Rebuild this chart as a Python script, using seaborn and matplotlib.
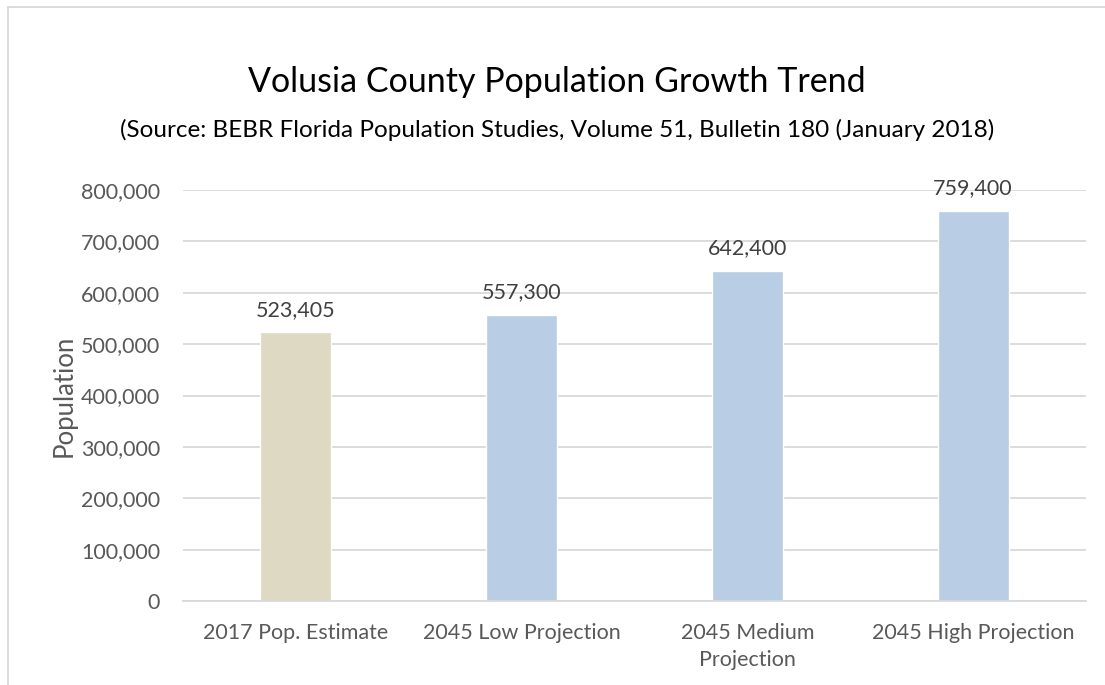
import matplotlib
matplotlib.use("Agg")
import matplotlib.pyplot as plt
import seaborn as sns
import pandas as pd
from matplotlib.ticker import FuncFormatter
from matplotlib.lines import Line2D

categories = ["2017 Pop. Estimate", "2045 Low Projection", "2045 Medium\nProjection", "2045 High Projection"]
values = [523405, 557300, 642400, 759400]
bar_colors = ["#DDD9C3", "#B9CDE5", "#B9CDE5", "#B9CDE5"]
yticks = [0, 100000, 200000, 300000, 400000, 500000, 600000, 700000, 800000]

sns.set_theme(style="white")
plt.rcParams['font.family'] = ['Lato', 'DejaVu Sans']

df = pd.DataFrame({"cat": categories, "val": values})

fig = plt.figure(figsize=(11.05, 6.85), dpi=100)
ax = fig.add_axes([183/1105, 1-601/685, (1086-183)/1105, (601-190)/685])

sns.barplot(data=df, x="cat", y="val", hue="cat", palette=bar_colors, legend=False,
            width=0.314, ax=ax, saturation=1)

ax.set_ylim(0, 800000)
ax.set_yticks(yticks)
ax.yaxis.set_major_formatter(FuncFormatter(lambda v, p: f"{int(v):,}"))
ax.grid(axis="y", color="#D9D9D9", linewidth=1.3)
ax.set_axisbelow(True)
for s in ["top", "right", "left"]:
    ax.spines[s].set_visible(False)
ax.spines["bottom"].set_color("#D9D9D9")
ax.spines["bottom"].set_linewidth(1.3)
ax.tick_params(axis="both", length=0, labelsize=15.5, labelcolor="#595959")
ax.tick_params(axis="y", pad=16.5)
ax.tick_params(axis="x", pad=16)
for lbl in ax.get_xticklabels():
    lbl.set_linespacing(1.45)
ax.set_xlabel("")
ax.set_ylabel("Population", fontsize=18.5, color="#595959", labelpad=3)

for i, v in enumerate(values):
    ax.annotate(f"{v:,}", (i, v), xytext=(0, 9), textcoords="offset points",
                ha="center", va="bottom", fontsize=15.5, color="#404040")

fig.text(557/1105, 1-82/685, "Volusia County Population Growth Trend", ha="center", va="center",
         fontsize=24.5, color="#000000")
fig.text(557/1105, 1-130/685, "(Source: BEBR Florida Population Studies, Volume 51, Bulletin 180 (January 2018)",
         ha="center", va="center", fontsize=17.5, color="#000000")

# outer chart border
fig.add_artist(Line2D([8/1105, 8/1105], [0, 1-7/685], color="#D9D9D9", linewidth=1.3, transform=fig.transFigure))
fig.add_artist(Line2D([8/1105, 1], [1-7/685, 1-7/685], color="#D9D9D9", linewidth=1.3, transform=fig.transFigure))

fig.savefig("out.png", dpi=100)
